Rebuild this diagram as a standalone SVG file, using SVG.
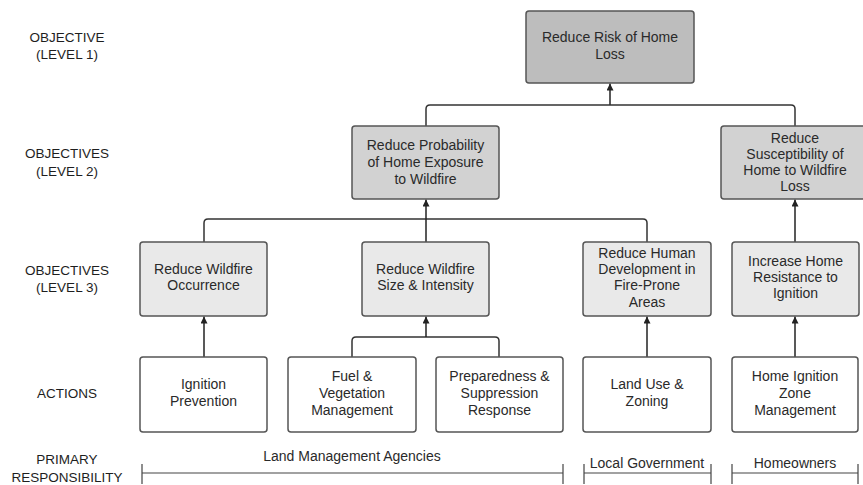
<svg xmlns="http://www.w3.org/2000/svg" width="863" height="485" viewBox="0 0 863 485">
<defs>
<marker id="arr" viewBox="0 0 10 10" refX="10" refY="5" markerWidth="8" markerHeight="7" markerUnits="userSpaceOnUse" orient="auto">
<path d="M0,0 L10,5 L0,10 z" fill="#222"/>
</marker>
<style>
text{font-family:"Liberation Sans",Arial,sans-serif;font-size:14px;fill:#2a2a2a;text-anchor:middle}
.lbl{font-size:13.5px;fill:#1e1e1e}
.l1,.l2,.l3,.act{stroke:#555;stroke-width:1.5}
.l1{fill:#bdbdbd}
.l2{fill:#d2d2d2}
.l3{fill:#e9e9e9}
.act{fill:#fff}
.c{fill:none;stroke:#333;stroke-width:1.5}
.a{fill:none;stroke:#222;stroke-width:1.5;marker-end:url(#arr)}
.r{fill:none;stroke:#444;stroke-width:1.2}
</style>
</defs>
<rect x="0" y="0" width="863" height="485" fill="#fff"/>

<g id="row-labels">
<text class="lbl" x="67" y="42">OBJECTIVE</text>
<text class="lbl" x="67" y="59">(LEVEL 1)</text>
<text class="lbl" x="67" y="158">OBJECTIVES</text>
<text class="lbl" x="67" y="176">(LEVEL 2)</text>
<text class="lbl" x="67" y="275">OBJECTIVES</text>
<text class="lbl" x="67" y="292">(LEVEL 3)</text>
<text class="lbl" x="67" y="398">ACTIONS</text>
<text class="lbl" x="67" y="464">PRIMARY</text>
<text class="lbl" x="67" y="482">RESPONSIBILITY</text>
</g>

<g id="connectors">
<line class="a" x1="610" y1="105" x2="610" y2="83.5"/>
<path class="c" d="M426,126 V109 Q426,105 430,105 H791 Q795,105 795,109 V126"/>
<path class="c" d="M204,242 V223 Q204,219 208,219 H643 Q647,219 647,223 V242"/>
<line class="a" x1="426" y1="242" x2="426" y2="199.5"/>
<line class="a" x1="795" y1="242" x2="795" y2="199.5"/>
<line class="a" x1="204" y1="357" x2="204" y2="316.5"/>
<line class="a" x1="647" y1="357" x2="647" y2="316.5"/>
<line class="a" x1="795" y1="357" x2="795" y2="316.5"/>
<path class="c" d="M352,357 V341 Q352,337 356,337 H495 Q499,337 499,341 V357"/>
<line class="a" x1="426" y1="337" x2="426" y2="316.5"/>
</g>

<g id="n-home-loss">
<rect class="l1" x="526" y="11" width="168" height="72" rx="3"/>
<text x="610" y="42">Reduce Risk of Home</text>
<text x="610" y="59">Loss</text>
</g>

<g id="n-exposure">
<rect class="l2" x="352" y="126" width="147" height="73" rx="3"/>
<text x="425.5" y="150">Reduce Probability</text>
<text x="425.5" y="167">of Home Exposure</text>
<text x="425.5" y="184">to Wildfire</text>
</g>

<g id="n-susceptibility">
<rect class="l2" x="721" y="126" width="148" height="73" rx="3"/>
<text x="795" y="143">Reduce</text>
<text x="795" y="159">Susceptibility of</text>
<text x="795" y="175">Home to Wildfire</text>
<text x="795" y="191">Loss</text>
</g>

<g id="n-occurrence">
<rect class="l3" x="140" y="242" width="127" height="74" rx="3"/>
<text x="203.5" y="274">Reduce Wildfire</text>
<text x="203.5" y="290">Occurrence</text>
</g>

<g id="n-size">
<rect class="l3" x="362" y="242" width="127" height="74" rx="3"/>
<text x="425.5" y="274">Reduce Wildfire</text>
<text x="425.5" y="290">Size &amp; Intensity</text>
</g>

<g id="n-development">
<rect class="l3" x="583" y="242" width="128" height="74" rx="3"/>
<text x="647" y="258">Reduce Human</text>
<text x="647" y="274">Development in</text>
<text x="647" y="290">Fire-Prone</text>
<text x="647" y="307">Areas</text>
</g>

<g id="n-resistance">
<rect class="l3" x="732" y="242" width="127" height="74" rx="3"/>
<text x="795.5" y="266">Increase Home</text>
<text x="795.5" y="282">Resistance to</text>
<text x="795.5" y="298">Ignition</text>
</g>

<g id="n-ignition">
<rect class="act" x="140" y="357" width="127" height="75" rx="3"/>
<text x="203.5" y="389">Ignition</text>
<text x="203.5" y="406">Prevention</text>
</g>

<g id="n-fuel">
<rect class="act" x="288" y="357" width="128" height="75" rx="3"/>
<text x="352" y="381">Fuel &amp;</text>
<text x="352" y="398">Vegetation</text>
<text x="352" y="415">Management</text>
</g>

<g id="n-preparedness">
<rect class="act" x="436" y="357" width="127" height="75" rx="3"/>
<text x="499.5" y="381">Preparedness &amp;</text>
<text x="499.5" y="398">Suppression</text>
<text x="499.5" y="415">Response</text>
</g>

<g id="n-landuse">
<rect class="act" x="583" y="357" width="128" height="75" rx="3"/>
<text x="647" y="389">Land Use &amp;</text>
<text x="647" y="406">Zoning</text>
</g>

<g id="n-hiz">
<rect class="act" x="732" y="357" width="126" height="75" rx="3"/>
<text x="795" y="381">Home Ignition</text>
<text x="795" y="398">Zone</text>
<text x="795" y="415">Management</text>
</g>

<g id="responsibility">
<text x="352" y="461">Land Management Agencies</text>
<path class="r" d="M142,464 V484 M142,473 H563 M563,464 V484"/>
<text x="647" y="468">Local Government</text>
<path class="r" d="M584,464 V484 M584,473 H711 M711,464 V484"/>
<text x="795" y="468">Homeowners</text>
<path class="r" d="M732,464 V484 M732,473 H858 M858,464 V484"/>
</g>
</svg>
